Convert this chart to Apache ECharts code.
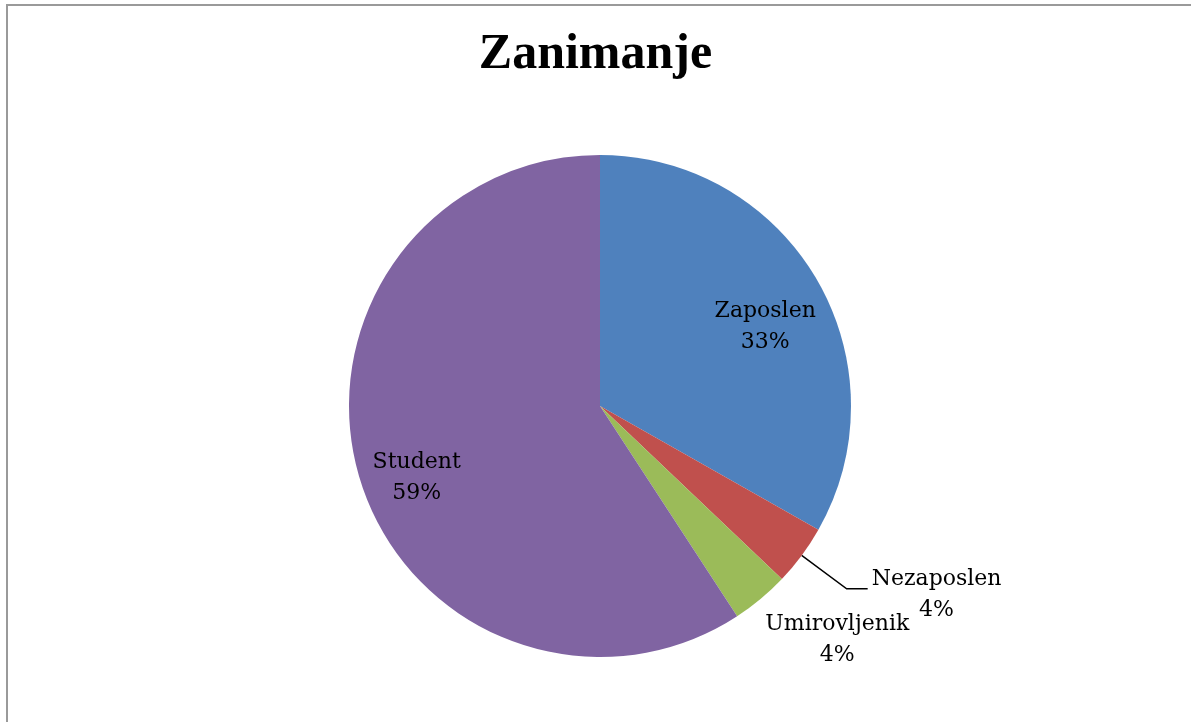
<!DOCTYPE html>
<html>
<head>
<meta charset="utf-8">
<title>Zanimanje</title>
<script src="https://cdn.jsdelivr.net/npm/echarts@6/dist/echarts.min.js"></script>
<style>
  html, body { margin: 0; padding: 0; background: #fff; }
  #chart { width: 1191px; height: 722px; }
</style>
</head>
<body>
<div id="chart"></div>
<script>
// 数据：各职业占比（%）
const categories = ['Zaposlen', 'Nezaposlen', 'Umirovljenik', 'Student']
const shares = [33.2, 3.9, 3.7, 59.2]
const colors = ['#4F81BD', '#C0504D', '#9BBB59', '#8064A2']

// 标签放置方式：内部 / 带引线外部 / 无引线外部
const insideLabels = ['Zaposlen', 'Student']
const lineLabels = ['Nezaposlen']
const freeLabels = ['Umirovljenik']

const labelFont = 'DejaVu Serif'
const pieCenter = [600, 406]
const pieRadius = 251

const chart = echarts.init(document.getElementById('chart'))

// 标签文本：名称 + 四舍五入百分比，两行居中
const fmt = (p) => `{a|${p.name}}\n{b|${Math.round(p.percent)}%}`
const rich = {
  a: { fontFamily: labelFont, fontSize: 22, color: '#000', lineHeight: 31, align: 'center' },
  b: { fontFamily: labelFont, fontSize: 22, color: '#000', lineHeight: 31, align: 'center' }
}

// 主饼图：只画扇区 + Nezaposlen 的引线标签
const mainData = categories.map((name, i) => ({
  name,
  value: shares[i],
  itemStyle: { color: colors[i] },
  label: { show: lineLabels.includes(name), offset: [0, 6] },
  labelLine: { show: lineLabels.includes(name) }
}))

// 叠加的透明饼环：内部标签放到约 0.75R 处，另放 Umirovljenik 的无引线标签
const overlayData = categories.map((name, i) => {
  const item = { name, value: shares[i], label: { show: false } }
  if (insideLabels.includes(name)) {
    item.label = { show: true, position: 'inside', offset: [0, 17] }
  } else if (freeLabels.includes(name)) {
    item.label = { show: true, position: 'outside', offset: [-32, 2] }
    item.labelLine = { show: false, length: 51, length2: 0 }
  }
  return item
})

chart.setOption({
  animation: false,
  title: {
    text: 'Zanimanje',
    left: 'center',
    top: 25,
    textStyle: { fontFamily: 'Liberation Serif', fontWeight: 'bold', fontSize: 50, color: '#000' }
  },
  graphic: [{
    type: 'rect',
    shape: { x: 7, y: 5, width: 1300, height: 800 },
    style: { fill: 'none', stroke: '#9a9a9a', lineWidth: 2 },
    silent: true
  }],
  series: [
    {
      type: 'pie',
      center: pieCenter,
      radius: pieRadius,
      startAngle: 90,
      clockwise: true,
      avoidLabelOverlap: false,
      labelLayout: { hideOverlap: false },
      data: mainData,
      label: {
        position: 'outside',
        formatter: fmt,
        rich,
        distanceToLabelLine: 4
      },
      labelLine: {
        length: 56,
        length2: 21,
        lineStyle: { color: '#000', width: 1.5 }
      },
      emphasis: { disabled: true }
    },
    {
      type: 'pie',
      center: pieCenter,
      radius: [pieRadius * 0.5, pieRadius],
      startAngle: 90,
      clockwise: true,
      silent: true,
      avoidLabelOverlap: false,
      labelLayout: { hideOverlap: false },
      itemStyle: { color: 'rgba(0,0,0,0)' },
      data: overlayData,
      label: { formatter: fmt, rich, distanceToLabelLine: 4 },
      labelLine: { show: false },
      emphasis: { disabled: true }
    }
  ]
})
</script>
</body>
</html>
